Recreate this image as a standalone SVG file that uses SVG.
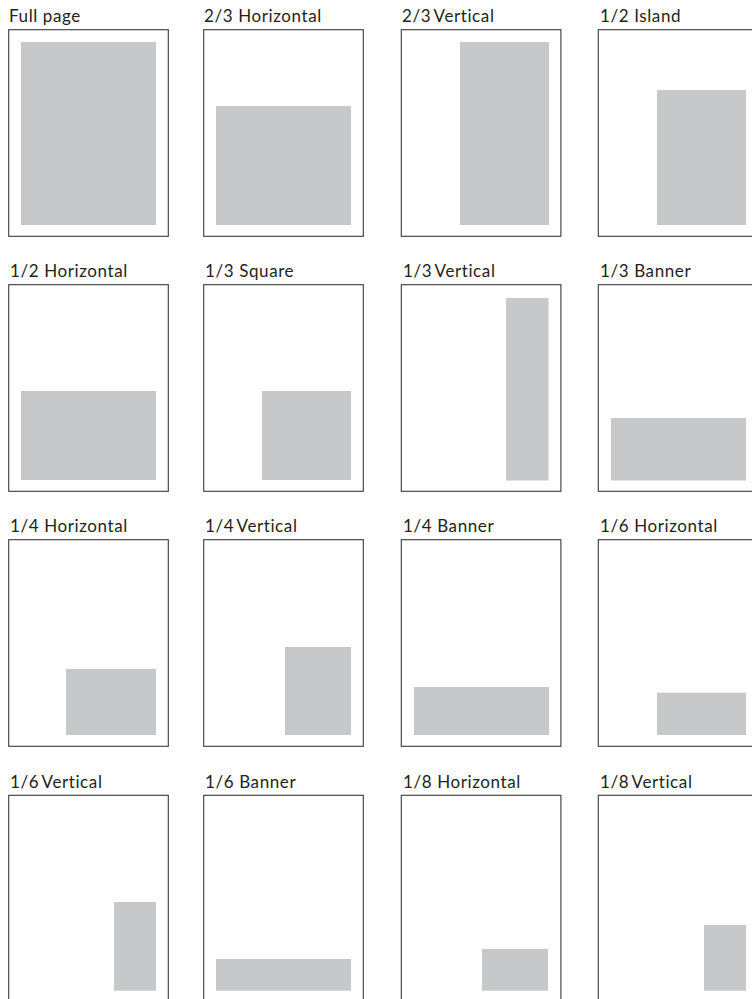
<svg xmlns="http://www.w3.org/2000/svg" width="752" height="999" viewBox="0 0 752 999">
<style>
.frame{fill:#fff;stroke:#3a3a3a;stroke-width:1.1}
.ad{fill:#c7c8ca}
.lbl{font-family:Lato,"Liberation Sans",sans-serif;font-size:17px;letter-spacing:0.6px;fill:#231f20}
.tight{word-spacing:-2px}
</style>
<rect width="752" height="999" fill="#fff"/>
<!-- Row 1 -->
<g id="full-page">
<text class="lbl" x="9" y="22.3">Full page</text>
<rect class="frame" x="8.7" y="29.7" width="159.6" height="206.6"/>
<rect class="ad" x="21" y="42" width="135" height="183"/>
</g>
<g id="two-thirds-horizontal">
<text class="lbl" x="204" y="22.3">2/3 Horizontal</text>
<rect class="frame" x="203.7" y="29.7" width="159.6" height="206.6"/>
<rect class="ad" x="216" y="106" width="135" height="119"/>
</g>
<g id="two-thirds-vertical">
<text class="lbl tight" x="402" y="22.3">2/3 Vertical</text>
<rect class="frame" x="401.3" y="29.7" width="159.6" height="206.6"/>
<rect class="ad" x="460" y="42" width="89" height="183"/>
</g>
<g id="half-island">
<text class="lbl" x="600" y="22.3">1/2 Island</text>
<rect class="frame" x="598.3" y="29.7" width="159.6" height="206.6"/>
<rect class="ad" x="657" y="90" width="89" height="135"/>
</g>
<!-- Row 2 -->
<g id="half-horizontal">
<text class="lbl" x="10" y="277.3">1/2 Horizontal</text>
<rect class="frame" x="8.7" y="284.7" width="159.6" height="206.6"/>
<rect class="ad" x="21" y="391" width="135" height="89"/>
</g>
<g id="third-square">
<text class="lbl" x="205" y="277.3">1/3 Square</text>
<rect class="frame" x="203.7" y="284.7" width="159.6" height="206.6"/>
<rect class="ad" x="262" y="391" width="89" height="89"/>
</g>
<g id="third-vertical">
<text class="lbl tight" x="403" y="277.3">1/3 Vertical</text>
<rect class="frame" x="401.3" y="284.7" width="159.6" height="206.6"/>
<rect class="ad" x="506" y="298" width="42.5" height="182.5"/>
</g>
<g id="third-banner">
<text class="lbl" x="600" y="277.3">1/3 Banner</text>
<rect class="frame" x="598.3" y="284.7" width="159.6" height="206.6"/>
<rect class="ad" x="611" y="418" width="135" height="62.5"/>
</g>
<!-- Row 3 -->
<g id="quarter-horizontal">
<text class="lbl" x="10" y="532.3">1/4 Horizontal</text>
<rect class="frame" x="8.7" y="539.7" width="159.6" height="206.6"/>
<rect class="ad" x="66" y="669" width="90" height="66"/>
</g>
<g id="quarter-vertical">
<text class="lbl tight" x="205" y="532.3">1/4 Vertical</text>
<rect class="frame" x="203.7" y="539.7" width="159.6" height="206.6"/>
<rect class="ad" x="285" y="647" width="66" height="88"/>
</g>
<g id="quarter-banner">
<text class="lbl" x="403" y="532.3">1/4 Banner</text>
<rect class="frame" x="401.3" y="539.7" width="159.6" height="206.6"/>
<rect class="ad" x="414" y="687" width="135" height="48"/>
</g>
<g id="sixth-horizontal">
<text class="lbl" x="600" y="532.3">1/6 Horizontal</text>
<rect class="frame" x="598.3" y="539.7" width="159.6" height="206.6"/>
<rect class="ad" x="657" y="692.7" width="89" height="42.3"/>
</g>
<!-- Row 4 -->
<g id="sixth-vertical">
<text class="lbl tight" x="10" y="788">1/6 Vertical</text>
<rect class="frame" x="8.7" y="795.3" width="159.6" height="206.6"/>
<rect class="ad" x="114" y="902" width="42" height="88.7"/>
</g>
<g id="sixth-banner">
<text class="lbl" x="205" y="788">1/6 Banner</text>
<rect class="frame" x="203.7" y="795.3" width="159.6" height="206.6"/>
<rect class="ad" x="216" y="959" width="135" height="31.7"/>
</g>
<g id="eighth-horizontal">
<text class="lbl" x="403" y="788">1/8 Horizontal</text>
<rect class="frame" x="401.3" y="795.3" width="159.6" height="206.6"/>
<rect class="ad" x="482" y="949" width="66" height="41.7"/>
</g>
<g id="eighth-vertical">
<text class="lbl tight" x="600" y="788">1/8 Vertical</text>
<rect class="frame" x="598.3" y="795.3" width="159.6" height="206.6"/>
<rect class="ad" x="704" y="925" width="42" height="65.7"/>
</g>
</svg>
